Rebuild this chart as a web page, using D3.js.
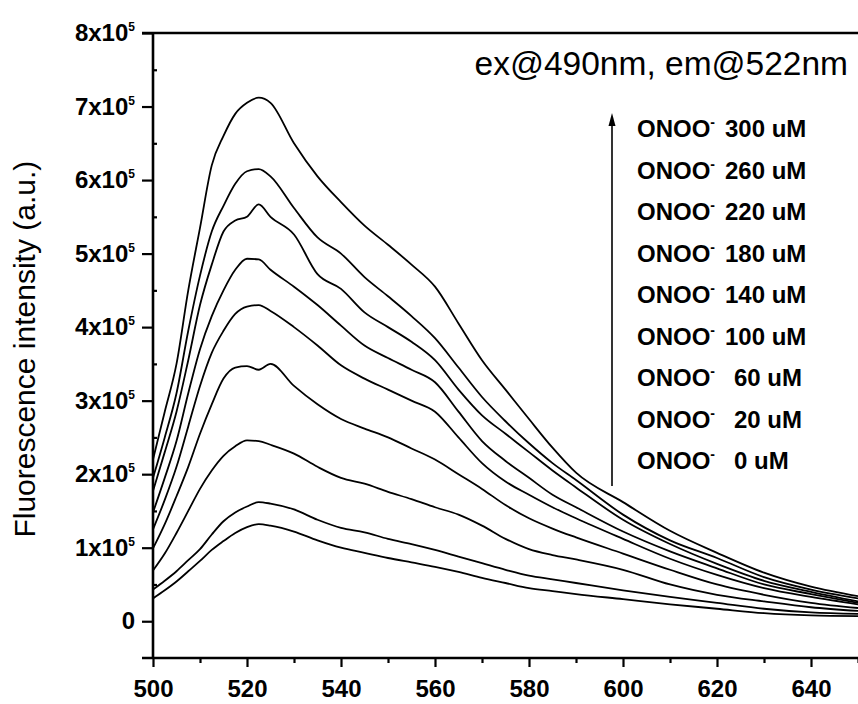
<!DOCTYPE html>
<html>
<head>
<meta charset="utf-8">
<script src="https://cdn.jsdelivr.net/npm/d3@7"></script>
<style>
  html, body { margin: 0; padding: 0; background: #fff; }
  svg { display: block; }
</style>
</head>
<body>
<div id="chart"></div>
<script>
// emission spectra, intensity in units of 1x10^5 a.u.
const wavelengths = [500, 502.5, 505, 507.5, 510, 512.5, 515, 517.5, 520, 522.5, 525, 530, 535, 540, 545, 550, 555, 560, 565, 570, 575, 580, 585, 590, 600, 610, 620, 630, 640, 650];

const int300 = [2.2, 2.85, 3.5, 4.5, 5.35, 6.2, 6.6, 6.9, 7.05, 7.12, 7.05, 6.5, 6.05, 5.7, 5.38, 5.12, 4.85, 4.55, 4.05, 3.55, 3.15, 2.75, 2.36, 2.02, 1.62, 1.23, 0.93, 0.66, 0.47, 0.34];
const int260 = [1.95, 2.5, 3.1, 3.95, 4.7, 5.3, 5.65, 5.95, 6.12, 6.15, 6.05, 5.62, 5.22, 5.0, 4.68, 4.42, 4.15, 3.85, 3.45, 3.05, 2.72, 2.42, 2.15, 1.92, 1.45, 1.1, 0.86, 0.6, 0.43, 0.31];
const int220 = [1.77, 2.3, 2.85, 3.55, 4.3, 4.85, 5.3, 5.45, 5.5, 5.67, 5.5, 5.26, 4.72, 4.52, 4.2, 4.0, 3.8, 3.55, 3.15, 2.8, 2.55, 2.3, 2.05, 1.82, 1.38, 1.05, 0.78, 0.55, 0.4, 0.27];
const int180 = [1.48, 1.95, 2.45, 3.1, 3.7, 4.15, 4.5, 4.78, 4.93, 4.92, 4.78, 4.55, 4.3, 4.02, 3.75, 3.58, 3.42, 3.25, 2.85, 2.45, 2.18, 1.95, 1.72, 1.55, 1.22, 0.95, 0.72, 0.5, 0.37, 0.25];
const int140 = [1.25, 1.65, 2.1, 2.65, 3.2, 3.65, 3.95, 4.18, 4.28, 4.3, 4.22, 4.0, 3.75, 3.48, 3.3, 3.15, 3.0, 2.85, 2.5, 2.15, 1.9, 1.72, 1.55, 1.4, 1.12, 0.85, 0.63, 0.45, 0.33, 0.23];
const int100 = [0.99, 1.32, 1.7, 2.1, 2.55, 2.95, 3.3, 3.45, 3.47, 3.42, 3.5, 3.2, 2.95, 2.75, 2.62, 2.5, 2.35, 2.2, 2.0, 1.8, 1.58, 1.4, 1.26, 1.14, 0.92, 0.7, 0.5, 0.36, 0.25, 0.18];
const int60 = [0.69, 0.92, 1.2, 1.5, 1.8, 2.05, 2.25, 2.38, 2.46, 2.45, 2.4, 2.28, 2.1, 1.95, 1.87, 1.76, 1.66, 1.55, 1.45, 1.3, 1.12, 0.98, 0.9, 0.84, 0.7, 0.5, 0.36, 0.27, 0.19, 0.14];
const int20 = [0.43, 0.55, 0.68, 0.83, 0.98, 1.18, 1.36, 1.48, 1.56, 1.62, 1.6, 1.52, 1.38, 1.27, 1.21, 1.12, 1.05, 0.97, 0.88, 0.79, 0.7, 0.62, 0.57, 0.52, 0.42, 0.33, 0.25, 0.17, 0.12, 0.1];
const int0 = [0.31, 0.42, 0.54, 0.68, 0.82, 0.97, 1.09, 1.2, 1.28, 1.32, 1.3, 1.22, 1.1, 1.0, 0.93, 0.86, 0.8, 0.74, 0.67, 0.59, 0.52, 0.45, 0.41, 0.37, 0.3, 0.23, 0.17, 0.11, 0.08, 0.07];

const spectra = [int300, int260, int220, int180, int140, int100, int60, int20, int0];
const concentrations = [300, 260, 220, 180, 140, 100, 60, 20, 0];

const xTicks = [500, 520, 540, 560, 580, 600, 620, 640];
const xMinorTicks = [510, 530, 550, 570, 590, 610, 630, 650];
const yTicks = [0, 1, 2, 3, 4, 5, 6, 7, 8];
const yMinorTicks = [0.5, 1.5, 2.5, 3.5, 4.5, 5.5, 6.5, 7.5];

const width = 858;
const height = 704;
const margin = {top: 33, right: 0, bottom: 46, left: 153};
const font = "'Liberation Sans', Arial, sans-serif";

const x = d3.scaleLinear().domain([500, 650]).range([margin.left, width - margin.right]);
const y = d3.scaleLinear().domain([-0.5, 8]).range([height - margin.bottom, margin.top]);

const svg = d3.select("#chart").append("svg")
  .attr("width", width)
  .attr("height", height)
  .style("font-family", font);

svg.append("defs").append("clipPath").attr("id", "plot-clip")
  .append("rect")
  .attr("x", margin.left).attr("y", margin.top)
  .attr("width", width - margin.left).attr("height", height - margin.top - margin.bottom);

// spectra
const lineGen = d3.line()
  .x((d, i) => x(wavelengths[i]))
  .y(d => y(d))
  .curve(d3.curveMonotoneX);

svg.append("g").attr("clip-path", "url(#plot-clip)")
  .selectAll("path").data(spectra).join("path")
  .attr("fill", "none")
  .attr("stroke", "#000")
  .attr("stroke-width", 1.8)
  .attr("stroke-linejoin", "round")
  .attr("d", lineGen);

// x axis
const xAxisG = svg.append("g").attr("transform", `translate(0, ${y(-0.5)})`)
  .call(d3.axisBottom(x).tickValues(xTicks).tickSize(9).tickPadding(13).tickFormat(d3.format("d")));
xAxisG.selectAll(".tick text")
  .attr("fill", "#000")
  .attr("font-family", font)
  .attr("font-size", "24px")
  .attr("font-weight", "bold");
xAxisG.append("g").call(d3.axisBottom(x).tickValues(xMinorTicks).tickSize(5).tickFormat(""));
xAxisG.selectAll(".domain").remove();
xAxisG.selectAll(".tick line").attr("stroke", "#000").attr("stroke-width", 2.2);

// y axis
const yAxisG = svg.append("g").attr("transform", `translate(${margin.left}, 0)`)
  .call(d3.axisLeft(y).tickValues(yTicks).tickSize(11).tickPadding(7));
yAxisG.selectAll(".tick text")
  .attr("fill", "#000")
  .attr("font-family", font)
  .attr("font-size", "24px")
  .attr("font-weight", "bold")
  .each(function(d) {
    const t = d3.select(this);
    if (d === 0) { t.text("0"); return; }
    t.text(null);
    t.append("tspan").text(`${d}x10`);
    t.append("tspan").attr("font-size", "12px").attr("dy", "-10").text("5");
  });
yAxisG.append("g").call(d3.axisRight(y).tickValues(yMinorTicks).tickSize(4).tickFormat(""));
yAxisG.selectAll(".domain").remove();
yAxisG.selectAll(".tick line").attr("stroke", "#000").attr("stroke-width", 2.2);

// frame lines: left, top, bottom
svg.append("line")
  .attr("x1", x(500)).attr("x2", x(500))
  .attr("y1", y(8)).attr("y2", y(-0.5))
  .attr("stroke", "#000").attr("stroke-width", 2.6);
svg.append("line")
  .attr("x1", x(500) - 11).attr("x2", width)
  .attr("y1", y(8)).attr("y2", y(8))
  .attr("stroke", "#000").attr("stroke-width", 2.4);
svg.append("line")
  .attr("x1", x(500) - 11).attr("x2", width)
  .attr("y1", y(-0.5)).attr("y2", y(-0.5))
  .attr("stroke", "#000").attr("stroke-width", 2.6);

// axis title
svg.append("text")
  .attr("transform", `translate(35, ${y(3.7)}) rotate(-90)`)
  .attr("text-anchor", "middle")
  .attr("font-size", "30px")
  .attr("fill", "#000")
  .text("Fluorescence intensity (a.u.)");

// annotation
svg.append("text")
  .attr("x", 848).attr("y", 75)
  .attr("text-anchor", "end")
  .attr("font-size", "33.5px")
  .attr("fill", "#000")
  .text("ex@490nm, em@522nm");

// arrow
const arrowX = 612;
svg.append("line")
  .attr("x1", arrowX).attr("x2", arrowX)
  .attr("y1", 486).attr("y2", 122)
  .attr("stroke", "#000").attr("stroke-width", 1.6);
svg.append("path")
  .attr("d", `M${arrowX},113 L${arrowX - 3.5},126 L${arrowX + 3.5},126 Z`)
  .attr("fill", "#000");

// legend labels
const legend = svg.append("g")
  .attr("font-size", "24px")
  .attr("font-weight", "bold")
  .attr("fill", "#000");
concentrations.forEach((c, i) => {
  const baseY = 137 + i * 41.5;
  const t = legend.append("text").attr("x", 637).attr("y", baseY);
  t.append("tspan").text("ONOO");
  t.append("tspan").attr("font-size", "14px").attr("dy", "-10").text("-");
  t.append("tspan").attr("x", c >= 100 ? 725 : 734).attr("y", baseY).text(`${c} uM`);
});
</script>
</body>
</html>
